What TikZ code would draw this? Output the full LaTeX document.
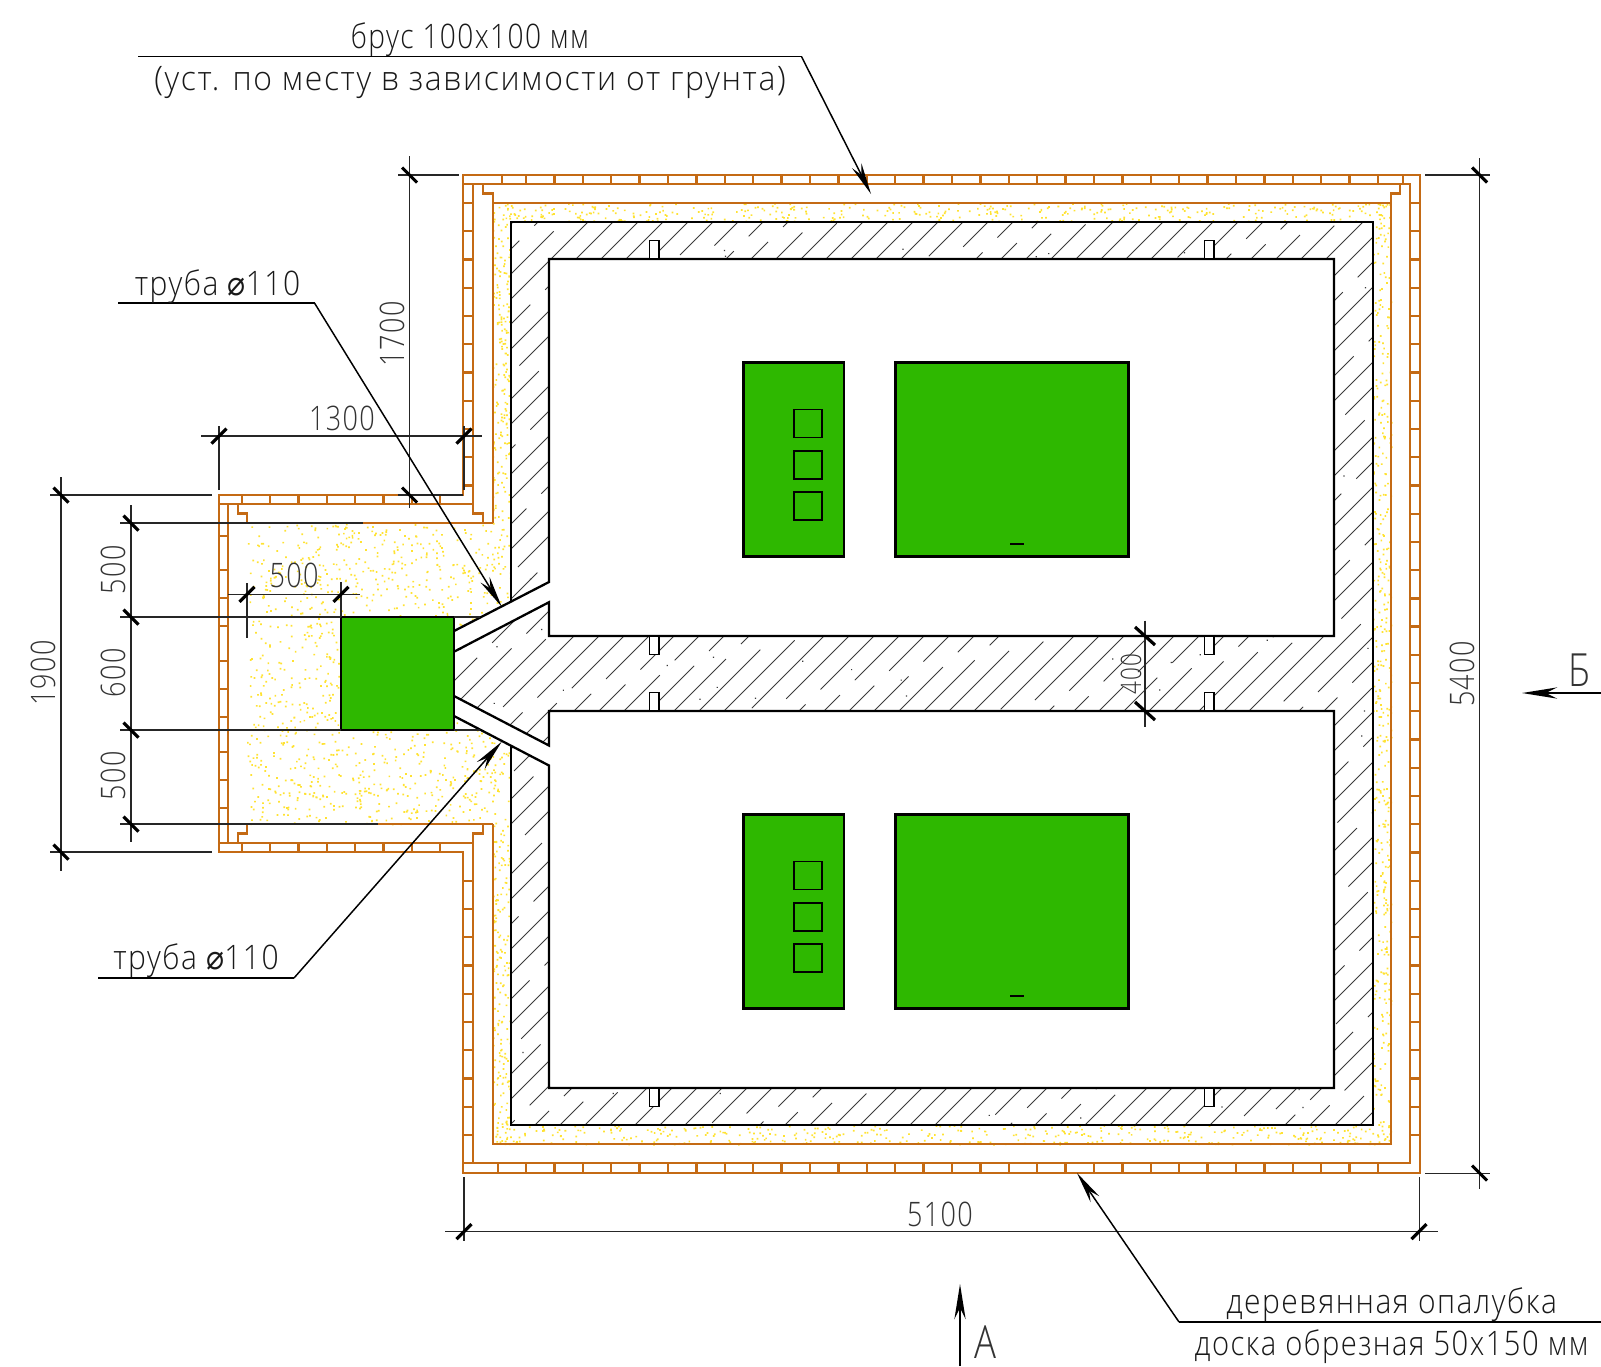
\documentclass[tikz,border=0pt]{standalone}
\usepackage{fontspec}
\setmainfont{Open Sans Light}[FakeStretch=0.8,LetterSpace=4]
\newfontfamily\symfont{DejaVu Sans}[FakeStretch=0.8]
\usetikzlibrary{arrows.meta}

\definecolor{woodcol}{RGB}{196,106,20}
\definecolor{tankcol}{RGB}{46,184,0}
\definecolor{sandcol}{RGB}{255,226,50}
\definecolor{hatchcol}{RGB}{60,60,60}

\tikzset{
	wood/.style={woodcol, line width=0.65pt},
	outline/.style={black, line width=0.65pt},
	tank/.style={fill=tankcol, draw=black, line width=0.65pt},
	niche/.style={fill=white, draw=black, line width=0.5pt},
	dimline/.style={black!85, line width=0.3pt},
	dimtick/.style={black, line width=0.9pt},
	leader/.style={black, line width=0.42pt},
	tipped/.style={leader, -{Stealth[length=9pt,width=3pt]}},
	dimtext/.style={font=\fontsize{9.6}{12}\selectfont, black!80, inner sep=0pt},
	labeltext/.style={font=\fontsize{9.6}{12}\selectfont, black!90, inner sep=0pt, transform shape}
}

\begin{document}
\begin{tikzpicture}[x=0.01cm,y=-0.01cm]
	\useasboundingbox (0,0) rectangle (1601,1366);

	% sand
	\pgfmathsetseed{41}
	\fill[sandcol] \foreach \i in {1,...,1300} {({247+rnd*264},{523+rnd*301}) rectangle +(1.7,1.7)};
	\fill[sandcol] \foreach \i in {1,...,420} {({492+rnd*899},{203+rnd*19}) rectangle +(1.7,1.7)};
	\fill[sandcol] \foreach \i in {1,...,420} {({492+rnd*899},{1125+rnd*19}) rectangle +(1.7,1.7)};
	\fill[sandcol] \foreach \i in {1,...,420} {({1373+rnd*18},{203+rnd*941}) rectangle +(1.7,1.7)};
	\fill[sandcol] \foreach \i in {1,...,200} {({492+rnd*19},{203+rnd*320}) rectangle +(1.7,1.7)};
	\fill[sandcol] \foreach \i in {1,...,200} {({492+rnd*19},{824+rnd*320}) rectangle +(1.7,1.7)};

	% concrete
	\fill[white] (511,222) -- (1373,222) -- (1373,1125) -- (511,1125) -- (511,745.7) -- (454,716) -- (454,631) -- (511,601.7) -- cycle;
	\begin{scope}
		\clip (511,222) -- (1373,222) -- (1373,1125) -- (511,1125) -- (511,745.7) -- (454,716) -- (454,631) -- (511,601.7) -- cycle;
		\foreach \c in {735,760,...,2500} {
			\pgfmathsetmacro\phs{mod(\c*1.37,38)}
			\draw[hatchcol, line width=0.26pt, dash pattern=on 31pt off 6pt, dash phase=\phs pt] (\c-1200,1200) -- (\c-200,200);
		}
		\fill[hatchcol] \foreach \i in {1,...,170} {({454+rnd*920},{222+rnd*903}) rectangle +(1.2,1.2)};
	\end{scope}

	% rooms and pipes
	\fill[white] (549,259) rectangle (1334,636);
	\fill[white] (549,711) rectangle (1334,1088);
	\fill[white] (454,631) -- (549,582) -- (549,602.2) -- (454,651.7) -- cycle;
	\fill[white] (454,696) -- (549,745.5) -- (549,765.5) -- (454,716) -- cycle;
	\draw[outline] (454,631) -- (549,582) -- (549,259) -- (1334,259) -- (1334,636) -- (549,636) -- (549,602.2) -- (454,651.7);
	\draw[outline] (454,696) -- (549,745.5) -- (549,711) -- (1334,711) -- (1334,1088) -- (549,1088) -- (549,765.5) -- (454,716);
	\draw[outline] (511,601.7) -- (511,222) -- (1373,222) -- (1373,1125) -- (511,1125) -- (511,745.7);

	\foreach \x in {649.5,1204.5} {
		\draw[niche] (\x,240.5) rectangle +(9.5,18.5);
		\draw[niche] (\x,636) rectangle +(9.5,18.5);
		\draw[niche] (\x,692.5) rectangle +(9.5,18.5);
		\draw[niche] (\x,1088) rectangle +(9.5,18.5);
	}

	% formwork
	\draw[wood] (463,495) -- (463,175) -- (1420,175) -- (1420,1173) -- (463,1173) -- (463,852) -- (219,852) -- (219,495) -- cycle;
	\draw[wood] (463,184) -- (1410,184) -- (1410,1163) -- (463,1163);
	\draw[wood] (473,184) -- (473,513.5) -- (483,513.5) -- (483,523);
	\draw[wood] (492.7,523) -- (247,523) -- (247,513.5) -- (238,513.5) -- (238,504);
	\draw[wood] (473,1163) -- (473,833.5) -- (483,833.5) -- (483,824);
	\draw[wood] (492.7,824) -- (247,824) -- (247,833.5) -- (238,833.5) -- (238,843);
	\draw[wood] (219,504) -- (473,504);
	\draw[wood] (219,843) -- (473,843);
	\draw[wood] (228,504) -- (228,843);
	\draw[wood] (483,184) -- (483,193.5) -- (492.7,193.5) -- (492.7,523);
	\draw[wood] (492.7,824) -- (492.7,1144) -- (1391,1144) -- (1391,193.5) -- (1400,193.5) -- (1400,184);
	\draw[wood] (492.7,203) -- (1391,203);

	\foreach \k in {0,...,30} {
		\draw[wood] (526+28.4*\k,175) -- (526+28.4*\k,184);
		\draw[wood] (526+28.4*\k,1163) -- (526+28.4*\k,1173);
	}
	\draw[wood] (501.7,175) -- (501.7,184);
	\draw[wood] (1403,175) -- (1403,184);
	\draw[wood] (498,1163) -- (498,1173);
	\foreach \k in {0,...,33} \draw[wood] (1410,203+28.24*\k) -- (1420,203+28.24*\k);
	\foreach \k in {0,...,10} \draw[wood] (463,203+28.24*\k) -- (473,203+28.24*\k);
	\foreach \k in {24,...,33} \draw[wood] (463,203+28.24*\k) -- (473,203+28.24*\k);
	\foreach \k in {0,...,7} {
		\draw[wood] (242+28.3*\k,495) -- (242+28.3*\k,504);
		\draw[wood] (242+28.3*\k,843) -- (242+28.3*\k,852);
	}
	\foreach \y in {536,570,598,626,661,689,717,752,780,808} \draw[wood] (219,\y) -- (228,\y);

	% equipment
	\foreach \y in {0,452} {
		\draw[tank] (743.5,362.5+\y) rectangle (844,556.5+\y);
		\draw[tank] (895.5,362.5+\y) rectangle (1128.5,556.5+\y);
		\foreach \s in {409.5,451,492} \draw[black, line width=0.5pt] (794,\s+\y) rectangle +(28,28);
		\draw[black, line width=0.5pt] (1010,544.3+\y) -- (1024,544.3+\y);
	}
	\draw[tank] (341,617) rectangle (454,730);

	% dimensions
	\draw[dimline] (445,1231.5) -- (1437.6,1231.5);
	\draw[dimline] (464,1177) -- (464,1241);
	\draw[dimline] (1419,1177) -- (1419,1241);
	\draw[dimline] (1479.5,158) -- (1479.5,1189);
	\draw[dimline] (1425,175) -- (1490,175);
	\draw[dimline] (1425,1173) -- (1490,1173);
	\draw[dimline] (409.5,156) -- (409.5,508);
	\draw[dimline] (398,175) -- (459,175);
	\draw[dimline] (398,495) -- (463,495);
	\draw[dimline] (201,436) -- (482,436);
	\draw[dimline] (219,426) -- (219,490);
	\draw[dimline] (464,426) -- (464,490);
	\draw[dimline] (61,477) -- (61,871);
	\draw[dimline] (50,495) -- (212,495);
	\draw[dimline] (50,852) -- (212,852);
	\draw[dimline] (131,505) -- (131,842);
	\draw[dimline] (120,523) -- (363,523);
	\draw[dimline] (120,617) -- (341,617);
	\draw[dimline] (120,730) -- (341,730);
	\draw[dimline] (120,824) -- (378,824);
	\draw[dimline] (454,617) -- (480,617);
	\draw[dimline] (454,730) -- (480,730);
	\draw[dimline] (228,594.3) -- (360,594.3);
	\draw[dimline] (247,583) -- (247,638);
	\draw[dimline] (341,582) -- (341,617);
	\draw[dimline] (1145,620.7) -- (1145,726.7);

	\foreach \x/\y in {464/1231.5,1419/1231.5,219/436,464/436,247/594.3,341/594.3} {
		\draw[dimtick] (\x-7.5,\y+7.5) -- (\x+7.5,\y-7.5);
	}
	\foreach \x/\y in {1479.5/175,1479.5/1173,409.5/175,409.5/495,61/495,61/852,131/523,131/617,131/730,131/824} {
		\draw[dimtick] (\x-7.5,\y-7.5) -- (\x+7.5,\y+7.5);
	}
	\draw[dimtick] (1135,627) -- (1155,645);
	\draw[dimtick] (1135,702) -- (1155,720);

	\node[dimtext] (dimFull) at (940,1214) {5100};
	\node[dimtext, rotate=90] (dimDepth) at (1462,674) {5400};
	\node[dimtext, rotate=90] (dimStep) at (392,334) {1700};
	\node[dimtext] (dimAnnex) at (342,418) {1300};
	\node[dimtext, rotate=90] (dimAnnexH) at (43,673) {1900};
	\node[dimtext, rotate=90] (dimUp) at (113,570) {500};
	\node[dimtext, rotate=90] (dimTank) at (113,673) {600};
	\node[dimtext, rotate=90] (dimLow) at (113,776) {500};
	\node[dimtext] (dimGap) at (294,575) {500};
	\node[dimtext, rotate=90, font=\fontsize{8}{10}\selectfont] (dimWall) at (1131,674) {400};

	% leaders
	\coordinate (beamStart) at (138,56.6);
	\coordinate (beamKnee) at (801.5,56.6);
	\coordinate (beamTip) at (871,194);
	\draw[leader] (beamStart) -- (beamKnee);
	\draw[tipped] (beamKnee) -- (beamTip);
	\node[labeltext, xscale=1.04] (beamTop) at (470,40) {брус 100х100 мм};
	\node[labeltext, xscale=1.18] (beamLow) at (470,82) {(уст. по месту в зависимости от грунта)};

	\coordinate (pipeAStart) at (118.4,303);
	\coordinate (pipeAKnee) at (314.5,303);
	\coordinate (pipeATip) at (501.7,606.7);
	\draw[leader] (pipeAStart) -- (pipeAKnee);
	\draw[tipped] (pipeAKnee) -- (pipeATip);
	\node[labeltext, xscale=1.11] (pipeA) at (217.5,287) {труба {\symfont ⌀}110};

	\coordinate (pipeBStart) at (98,978);
	\coordinate (pipeBKnee) at (294,978);
	\coordinate (pipeBTip) at (501.7,741.7);
	\draw[leader] (pipeBStart) -- (pipeBKnee);
	\draw[tipped] (pipeBKnee) -- (pipeBTip);
	\node[labeltext, xscale=1.11] (pipeB) at (196,961) {труба {\symfont ⌀}110};

	\coordinate (formStart) at (1601,1322);
	\coordinate (formKnee) at (1179,1322);
	\coordinate (formTip) at (1077,1173);
	\draw[leader] (formStart) -- (formKnee);
	\draw[tipped] (formKnee) -- (formTip);
	\node[labeltext, xscale=1.11] (formTop) at (1391.6,1305) {деревянная опалубка};
	\node[labeltext, xscale=1.08] (formLow) at (1391.6,1347) {доска обрезная 50х150 мм};

	% sections
	\coordinate (cutAStart) at (960,1366);
	\coordinate (cutATip) at (960,1284);
	\draw[leader, -{Stealth[length=10pt,width=3.2pt]}] (cutAStart) -- (cutATip);
	\node[dimtext, font=\fontsize{13}{15}\selectfont] (cutA) at (985,1342) {А};
	\coordinate (cutBStart) at (1601,693);
	\coordinate (cutBTip) at (1522,693);
	\draw[leader, -{Stealth[length=10pt,width=3.2pt]}] (cutBStart) -- (cutBTip);
	\node[dimtext, font=\fontsize{13}{15}\selectfont] (cutB) at (1579,670) {Б};
\end{tikzpicture}
\end{document}
